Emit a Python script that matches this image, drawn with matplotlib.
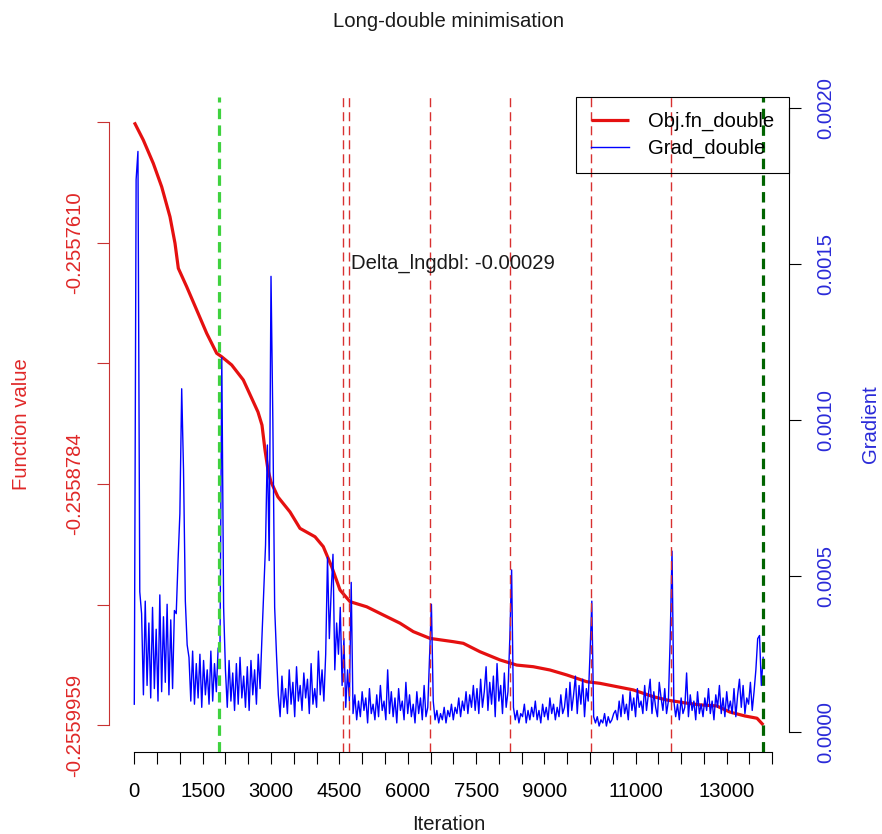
import numpy as np
import matplotlib
matplotlib.use('Agg')
import matplotlib.pyplot as plt

plt.rcParams['font.family'] = 'Liberation Sans'
plt.rcParams['lines.scale_dashes'] = False

# objective function along the run (iteration, value)
obj_iter = [0, 197, 417, 601, 783, 893, 966, 1150, 1369, 1589, 1808, 1918,
            2137, 2392, 2576, 2714, 2802, 2868, 2934, 3000, 3153, 3417, 3636,
            3966, 4147, 4332, 4514, 4733, 5100, 5464, 5831, 6122, 6489, 7000,
            7220, 7586, 8025, 8391, 8756, 9122, 9489, 9928, 10219, 10586,
            10950, 11389, 11683, 12047, 12414, 12780, 13072, 13401, 13665, 13803]
obj_val = [-0.2557023, -0.2557109, -0.2557223, -0.2557337, -0.2557483,
           -0.2557612, -0.2557734, -0.2557824, -0.2557937, -0.2558051,
           -0.2558148, -0.2558165, -0.2558205, -0.2558278, -0.2558367,
           -0.2558434, -0.2558498, -0.2558619, -0.2558717, -0.2558775,
           -0.2558848, -0.2558921, -0.2559001, -0.2559042, -0.2559090,
           -0.2559188, -0.2559301, -0.2559358, -0.2559383, -0.2559423,
           -0.2559463, -0.2559504, -0.2559537, -0.2559553, -0.2559561,
           -0.2559602, -0.2559642, -0.2559667, -0.2559675, -0.2559691,
           -0.2559715, -0.2559748, -0.2559756, -0.2559772, -0.2559788,
           -0.2559821, -0.2559837, -0.2559850, -0.2559861, -0.2559866,
           -0.2559896, -0.2559915, -0.2559926, -0.2559959]

# gradient, one reading every 40 iterations, in units of 1e-5
grad_step = 40
grad_e5 = [9, 177, 186, 45,
           38, 12, 42, 15, 35, 11, 40, 14, 33, 10, 44, 13, 37, 16, 41, 12, 36, 14, 39,
           38, 55, 70, 110, 84, 42, 28,
           24, 10, 26, 9, 22, 11, 25, 8, 23, 12, 20, 9, 26, 10, 22, 13, 27,
           26, 120, 40,
           20, 8, 23, 10, 19, 7, 22, 9, 24, 11, 18, 8, 21, 7, 23, 12, 20, 9, 25, 14,
           30, 45, 60, 92, 55, 146, 100, 40, 25,
           12, 5, 18, 8, 14, 6, 20, 9, 16, 5, 21, 10, 15, 7, 19, 11, 17, 6, 22, 9,
           14, 8, 26, 12, 20, 10,
           25, 56, 30, 45, 57, 20, 35, 25, 40, 15, 30, 8, 20, 10, 48,
           6, 12, 4, 10, 5, 13, 7, 11, 3, 14, 6, 9, 4, 12, 5, 15, 7, 10, 4, 20,
           6, 13, 5, 11, 3, 14, 7, 10, 4, 16, 6, 12, 5, 9, 3, 13, 6, 11, 4, 15, 5, 8,
           25, 41, 10,
           4, 7, 3, 6, 4, 8, 3, 7, 5, 9, 4, 8, 6, 11, 5, 10, 7, 13, 6, 12, 8, 15, 7,
           14, 6, 17, 8, 13, 21, 7, 16, 9, 18, 5, 22, 10, 15, 6, 19, 8, 13,
           30, 52, 8,
           4, 7, 3, 6, 5, 9, 3, 7, 4, 8, 5, 10, 4, 7, 3, 9, 5, 8, 4, 11, 6, 9, 4, 8,
           5, 12, 6,
           8, 14, 5, 16, 7, 12, 18, 6, 15, 9, 17, 5, 14, 10,
           25, 42, 5,
           3, 5, 2, 4, 3, 6, 2, 5, 3, 4, 6,
           7, 4, 10, 5, 12, 6, 9, 4, 13, 7, 11, 5, 14, 8, 10, 6, 15, 7, 12, 17,
           6, 13, 8, 5, 16, 11, 7, 14, 6, 10,
           30, 58, 10,
           5, 9, 4, 11, 6, 8, 19, 5, 12, 7, 10, 4, 13, 6, 9, 5, 11, 7, 14, 6,
           10, 4, 12, 8, 15, 6, 11, 5, 13, 7, 10, 6, 14, 5, 12, 17, 8, 15, 6, 11,
           9, 16, 7, 13,
           20, 30, 31, 15, 24]

restart_iter = [4575, 4720, 6490, 8245, 10015, 11780]
start_iter = 1860
stop_iter = 13790
delta_lngdbl = -0.00029

x_ticks = list(range(0, 14001, 500))
x_labelled = [0, 1500, 3000, 4500, 6000, 7500, 9000, 11000, 13000]
fn_ticks = [-0.2559959, -0.2559372, -0.2558784, -0.2558197, -0.2557610, -0.2557023]
fn_labelled = [-0.2559959, -0.2558784, -0.2557610]
grad_ticks = [0.0, 0.0005, 0.0010, 0.0015, 0.0020]

grad = np.array(grad_e5) * 1e-5
grad_iter = np.arange(len(grad)) * grad_step

FS = 14.6
RED_AX = '#C83232'
RED_TXT = '#E02828'
BLUE_TXT = '#2A2AD8'

W, H = 882, 834
fig = plt.figure(figsize=(W / 100, H / 100), dpi=100)
ax = fig.add_axes([109 / W, 1 - 751.7 / H, 680 / W, 654.4 / H])
ax2 = ax.twinx()

red_line, = ax.plot(obj_iter, obj_val, color='#E51010', lw=2.3,
                    solid_capstyle='butt', label='Obj.fn_double')
blue_line, = ax2.plot(grad_iter, grad, color='#0000FF', lw=1.0,
                      label='Grad_double')

for it in restart_iter:
    ax2.axvline(it, color='#D83030', lw=1.0, dashes=(6.5, 3.6))
ax2.axvline(start_iter, color='#3FD23F', lw=2.3, dashes=(7.5, 4.5))
ax2.axvline(stop_iter, color='#006400', lw=2.3, dashes=(7.5, 4.5))

ax2.text(7000, 0.0015, f'Delta_lngdbl: {delta_lngdbl:.5f}', fontsize=FS,
         ha='center', va='center', color='#1a1a1a')

ax.set_xlim(-555.2, 14367)
ax.set_ylim(-0.2560089, -0.2556901)
ax2.set_ylim(-0.0000621, 0.0020333)

# spines like R's axis(): only between first and last tick
for a in (ax, ax2):
    for s in a.spines.values():
        s.set_visible(False)
ax.spines['bottom'].set_visible(True)
ax.spines['bottom'].set_bounds(0, 14000)
ax.spines['left'].set_visible(True)
ax.spines['left'].set_bounds(fn_ticks[0], fn_ticks[-1])
ax.spines['left'].set_color(RED_AX)
ax2.spines['right'].set_visible(True)
ax2.spines['right'].set_bounds(0, 0.002)
for s in (ax.spines['bottom'], ax.spines['left'], ax2.spines['right']):
    s.set_linewidth(0.8)

ax.set_xticks(x_ticks, [str(t) if t in x_labelled else '' for t in x_ticks])
ax.set_yticks(fn_ticks, [f'{v:.7f}' if v in fn_labelled else '' for v in fn_ticks])
ax2.set_yticks(grad_ticks, [f'{v:.4f}' for v in grad_ticks])

ax.tick_params(axis='x', length=8.6, width=0.8, pad=24.3, labelsize=FS,
               colors='black')
ax.tick_params(axis='y', length=8.6, width=0.8, pad=12.2, labelsize=FS,
               color=RED_AX, labelcolor=RED_TXT)
ax2.tick_params(axis='y', length=8.6, width=0.8, pad=22.1, labelsize=FS,
                color='black', labelcolor=BLUE_TXT)

for lbl in ax.get_xticklabels():
    lbl.set_va('baseline')
for lbl in ax.get_yticklabels() + ax2.get_yticklabels():
    lbl.set_rotation(90)
    lbl.set_rotation_mode('anchor')
    lbl.set_ha('center')
    lbl.set_va('baseline')

leg = ax2.legend(handles=[red_line, blue_line], loc='upper right',
                 bbox_to_anchor=(1, 1), borderaxespad=0, fontsize=FS,
                 fancybox=False, framealpha=1, handlelength=1.87,
                 handletextpad=0.94, borderpad=0.73, labelspacing=0.37)
leg.get_frame().set_facecolor('none')
leg.get_frame().set_edgecolor('black')
leg.get_frame().set_linewidth(0.8)

cx = 449 / W
fig.text(cx, 1 - 26.7 / H, 'Long-double minimisation', fontsize=FS,
         ha='center', va='baseline', color='#1a1a1a')
fig.text(cx, 1 - 830 / H, 'Iteration', fontsize=FS, ha='center', va='baseline',
         color='#1a1a1a')
fig.text(27 / W, 1 - 424.5 / H, 'Function value', fontsize=FS, rotation=90,
         rotation_mode='anchor', ha='center', va='baseline', color=RED_TXT)
fig.text(876 / W, 1 - 424.5 / H, 'Gradient', fontsize=FS, rotation=90,
         rotation_mode='anchor', ha='center', va='baseline', color=BLUE_TXT)

fig.savefig('out.png', dpi=100)
